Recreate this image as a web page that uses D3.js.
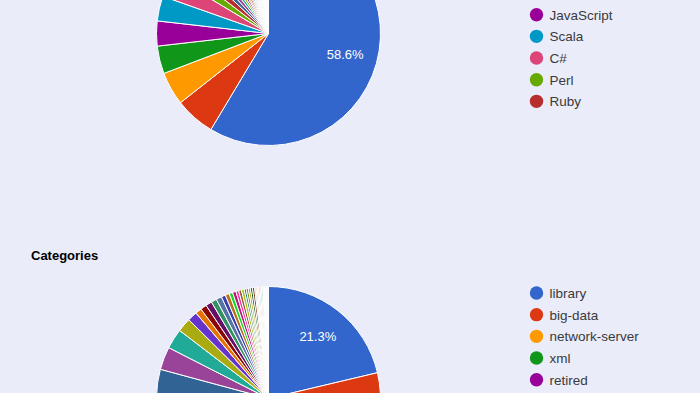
<!DOCTYPE html>
<html>
<head>
<meta charset="utf-8">
<script src="https://cdn.jsdelivr.net/npm/d3@7"></script>
<style>
  html, body { margin: 0; padding: 0; background: #eaecfa; overflow: hidden; }
  svg { display: block; }
</style>
</head>
<body>
<svg id="chart" width="700" height="393"></svg>
<script>
// ---- Data ----
const langTitle = "Languages";
const langNames = ["Java", "C", "Python", "C++", "JavaScript", "Scala", "C#", "Perl", "Ruby",
  "Go", "PHP", "Erlang", "Groovy", "Tcl", "Lua", "R", "Shell", "Objective-C", "Haskell",
  "Kotlin", "Rust", "D", "Delphi", "Smalltalk", "Clojure", "Fortran", "Ocaml",
  "Bash", "Node.js", "ActionScript", "Swift", "Cocoa", "XSLT", "SQL", "Matlab",
  "Scheme", "Lisp", "Pascal", "Ada", "Vala", "Dart", "Julia", "Elixir", "F#", "Prolog",
  "Awk", "Assembly", "Cobol"];
const langValues = [58.6, 5.8, 4.8, 4.0, 3.6, 3.6, 3.2, 1.8, 1.6,
  1.2, 1.1, 0.9, 0.8, 0.7, 0.6, 0.6, 0.5, 0.5, 0.4,
  0.4, 0.4, 0.3, 0.3, 0.3, 0.3, 0.3, 0.3,
  0.2, 0.2, 0.2, 0.2, 0.2, 0.2, 0.2, 0.2,
  0.2, 0.2, 0.1, 0.1, 0.1, 0.1, 0.1, 0.1, 0.1, 0.1,
  0.1, 0.1, 0.1];

const catTitle = "Categories";
const catNames = ["library", "big-data", "network-server", "xml", "retired", "database",
  "web-framework", "build-management", "http", "content", "network-client", "hadoop",
  "javaee", "cloud", "osgi", "mail", "testing", "graphics", "search", "mobile",
  "iot", "security", "geospatial", "cms", "email", "dependency-injection",
  "distributed-computing", "json", "messaging", "portal", "regexp", "rdf", "sql",
  "template", "workflow", "ftp", "fulltext", "graph", "logging", "machine-learning",
  "scripting", "vm", "web-services", "xmpp", "javascript"];
const catValues = [21.3, 12.0, 9.2, 7.4, 6.3, 5.5,
  4.9, 4.5, 4.1, 4.0, 3.3, 2.9,
  2.0, 1.4, 0.9, 0.9, 0.9, 0.8, 0.8, 0.6,
  0.6, 0.5, 0.5, 0.4, 0.4, 0.4,
  0.3, 0.3, 0.3, 0.3, 0.3, 0.2, 0.2,
  0.2, 0.2, 0.2, 0.2, 0.1, 0.1, 0.1,
  0.1, 0.1, 0.1, 0.1, 0.1];

const palette = ["#3366cc","#dc3912","#ff9900","#109618","#990099","#0099c6","#dd4477",
  "#66aa00","#b82e2e","#316395","#994499","#22aa99","#aaaa11","#6633cc","#e67300",
  "#8b0707","#651067","#329262","#5574a6","#3b3eac","#b77322","#16d620","#b91383",
  "#f4359e","#9c5935","#a9c413","#2a778d","#668d1c","#bea413","#0c5922","#743411"];

// ---- Layout ----
const blockStep = 365;           // vertical distance between stacked charts
const radius = 112;
const cx = 268.5;
const FONT = "Arial, 'Liberation Sans', sans-serif";
const legendMax = 9;

function colorAt(i) {
  const base = palette[i % palette.length];
  if (i < palette.length) return base;
  return d3.interpolateRgb(base, "#ffffff")(0.55);
}

const svg = d3.select("#chart");

function drawPie(title, names, values, offsetY) {
  const g = svg.append("g").attr("transform", `translate(0,${offsetY})`);
  const total = d3.sum(values);
  const data = names.map((n, i) => ({ name: n, value: values[i], index: i }));

  g.append("text")
    .attr("x", 31).attr("y", 260)
    .attr("font-family", FONT).attr("font-size", "13px").attr("font-weight", "bold")
    .attr("fill", "#000")
    .text(title);

  const pie = d3.pie().sort(null).value(d => d.value);
  const arc = d3.arc().innerRadius(0).outerRadius(radius);
  const labelArc = d3.arc().innerRadius(radius * 0.71).outerRadius(radius * 0.71);

  const pg = g.append("g").attr("transform", `translate(${cx},${398.5})`);
  const arcs = pie(data);
  pg.selectAll("path").data(arcs).join("path")
    .attr("d", arc)
    .attr("fill", d => colorAt(d.data.index))
    .attr("stroke", "#ffffff")
    .attr("stroke-width", 1);

  pg.selectAll("text.pct").data(arcs.filter(d => d.data.value / total >= 0.1)).join("text")
    .attr("class", "pct")
    .attr("transform", d => `translate(${labelArc.centroid(d)})`)
    .attr("text-anchor", "middle")
    .attr("dy", "0.35em")
    .attr("font-family", FONT).attr("font-size", "13px")
    .attr("fill", "#ffffff")
    .text(d => (d.data.value / total * 100).toFixed(1) + "%");

  const ly = d3.scaleLinear().domain([0, 1]).range([293, 293 + 21.67]);
  const lg = g.append("g");
  const items = lg.selectAll("g").data(data.slice(0, legendMax)).join("g")
    .attr("transform", (d, i) => `translate(0,${ly(i)})`);
  items.append("circle").attr("cx", 536.5).attr("cy", 0).attr("r", 6.7)
    .attr("fill", d => colorAt(d.index));
  items.append("text").attr("x", 549.5).attr("y", 0).attr("dy", "0.36em")
    .attr("font-family", FONT).attr("font-size", "13.5px").attr("fill", "#3a3a3a")
    .text(d => d.name);
}

drawPie(langTitle, langNames, langValues, -blockStep);
drawPie(catTitle, catNames, catValues, 0);
</script>
</body>
</html>
